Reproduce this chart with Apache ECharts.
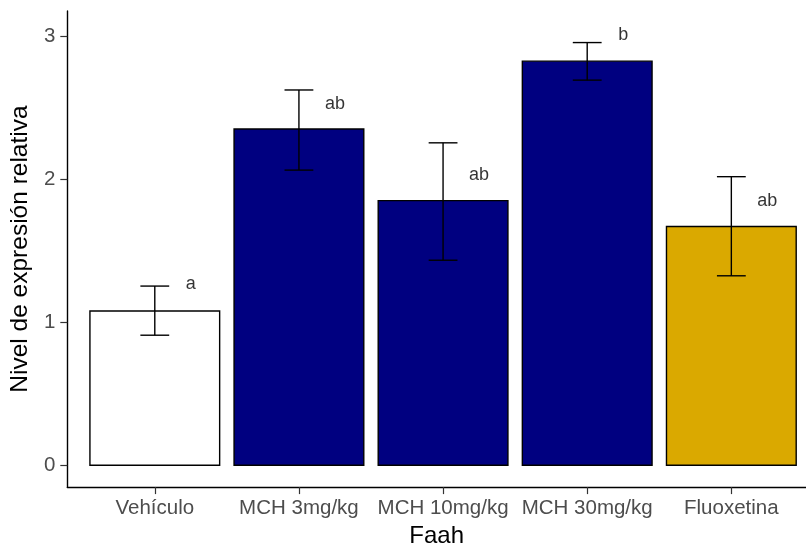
<!DOCTYPE html>
<html>
<head>
<meta charset="utf-8">
<script src="https://cdn.jsdelivr.net/npm/echarts@6/dist/echarts.min.js"></script>
<style>
html,body{margin:0;padding:0;background:#fff;}
#chart{width:806px;height:553px;}
</style>
</head>
<body>
<div id="chart"></div>
<script>
// ---- data ----
var categories = ['Vehículo', 'MCH 3mg/kg', 'MCH 10mg/kg', 'MCH 30mg/kg', 'Fluoxetina'];
var means      = [1.08, 2.354, 1.852, 2.829, 1.671];
var errLow     = [0.91, 2.066, 1.435, 2.696, 1.326];
var errHigh    = [1.254, 2.627, 2.257, 2.959, 2.02];
var letters    = ['a', 'ab', 'ab', 'b', 'ab'];
var letterY    = [1.27, 2.53, 2.03, 3.01, 1.85];
var yTicks     = [0, 1, 2, 3];
var xTicks     = [0, 1, 2, 3, 4];

// ---- styles ----
var barColors = ['#FFFFFF', '#000080', '#000080', '#000080', '#DAA900'];
var FONT = "'Liberation Sans', Arial, sans-serif";
var BAR_W = 0.9, CAP_W = 0.2, LETTER_DX = 0.25;

var barData = categories.map(function (c, i) {
  return [i, means[i], errLow[i], errHigh[i]];
});
var letterData = categories.map(function (c, i) {
  return [i + LETTER_DX, letterY[i]];
});

var chart = echarts.init(document.getElementById('chart'), null, {renderer: 'canvas'});
chart.setOption({
  animation: false,
  backgroundColor: '#ffffff',
  grid: {left: 66, right: 0, top: 11, bottom: 64.3, containLabel: false},
  xAxis: {
    type: 'value',
    min: -0.607,
    max: 4.518,
    name: 'Faah',
    nameLocation: 'middle',
    nameGap: 33,
    nameTextStyle: {fontFamily: FONT, fontSize: 24, color: '#000'},
    axisLine: {show: true, onZero: false, lineStyle: {color: '#000', width: 1.4}},
    axisTick: {show: true, length: 7, customValues: xTicks, lineStyle: {color: '#333', width: 1.2}},
    axisLabel: {
      show: true, customValues: xTicks, margin: 11,
      fontFamily: FONT, fontSize: 20.5, color: '#4D4D4D',
      formatter: function (v) { return categories[Math.round(v)]; }
    },
    splitLine: {show: false}
  },
  yAxis: {
    type: 'value',
    min: -0.1535,
    max: 3.18,
    name: 'Nivel de expresión relativa',
    nameLocation: 'middle',
    nameGap: 30,
    nameRotate: 90,
    nameTextStyle: {fontFamily: FONT, fontSize: 24.5, color: '#000'},
    axisLine: {show: true, onZero: false, lineStyle: {color: '#000', width: 1.4}},
    axisTick: {show: true, length: 7, customValues: yTicks, lineStyle: {color: '#333', width: 1.2}},
    axisLabel: {
      show: true, customValues: yTicks, margin: 12,
      fontFamily: FONT, fontSize: 20.5, color: '#4D4D4D',
      formatter: function (v) { return String(Math.round(v)); }
    },
    splitLine: {show: false}
  },
  series: [
    {
      type: 'custom',
      data: barData,
      clip: false,
      renderItem: function (params, api) {
        var i = api.value(0), m = api.value(1), lo = api.value(2), hi = api.value(3);
        var p1 = api.coord([i - BAR_W / 2, m]);
        var p2 = api.coord([i + BAR_W / 2, 0]);
        var eTop = api.coord([i, hi]);
        var eBot = api.coord([i, lo]);
        var cL = api.coord([i - CAP_W / 2, hi]);
        var cR = api.coord([i + CAP_W / 2, hi]);
        var dL = api.coord([i - CAP_W / 2, lo]);
        var dR = api.coord([i + CAP_W / 2, lo]);
        var lineStyle = {stroke: '#000', lineWidth: 1.4, fill: null};
        return {
          type: 'group',
          children: [
            {type: 'rect', shape: {x: p1[0], y: p1[1], width: p2[0] - p1[0], height: p2[1] - p1[1]},
             style: {fill: barColors[params.dataIndex], stroke: '#000', lineWidth: 1.4}},
            {type: 'line', shape: {x1: eTop[0], y1: eTop[1], x2: eBot[0], y2: eBot[1]}, style: lineStyle},
            {type: 'line', shape: {x1: cL[0], y1: cL[1], x2: cR[0], y2: cR[1]}, style: lineStyle},
            {type: 'line', shape: {x1: dL[0], y1: dL[1], x2: dR[0], y2: dR[1]}, style: lineStyle}
          ]
        };
      }
    },
    {
      type: 'scatter',
      data: letterData,
      symbolSize: 1,
      itemStyle: {color: 'rgba(0,0,0,0)'},
      label: {
        show: true,
        position: 'inside',
        fontFamily: FONT,
        fontSize: 18,
        color: '#000',
        formatter: function (p) { return letters[p.dataIndex]; }
      }
    }
  ]
});
</script>
</body>
</html>
